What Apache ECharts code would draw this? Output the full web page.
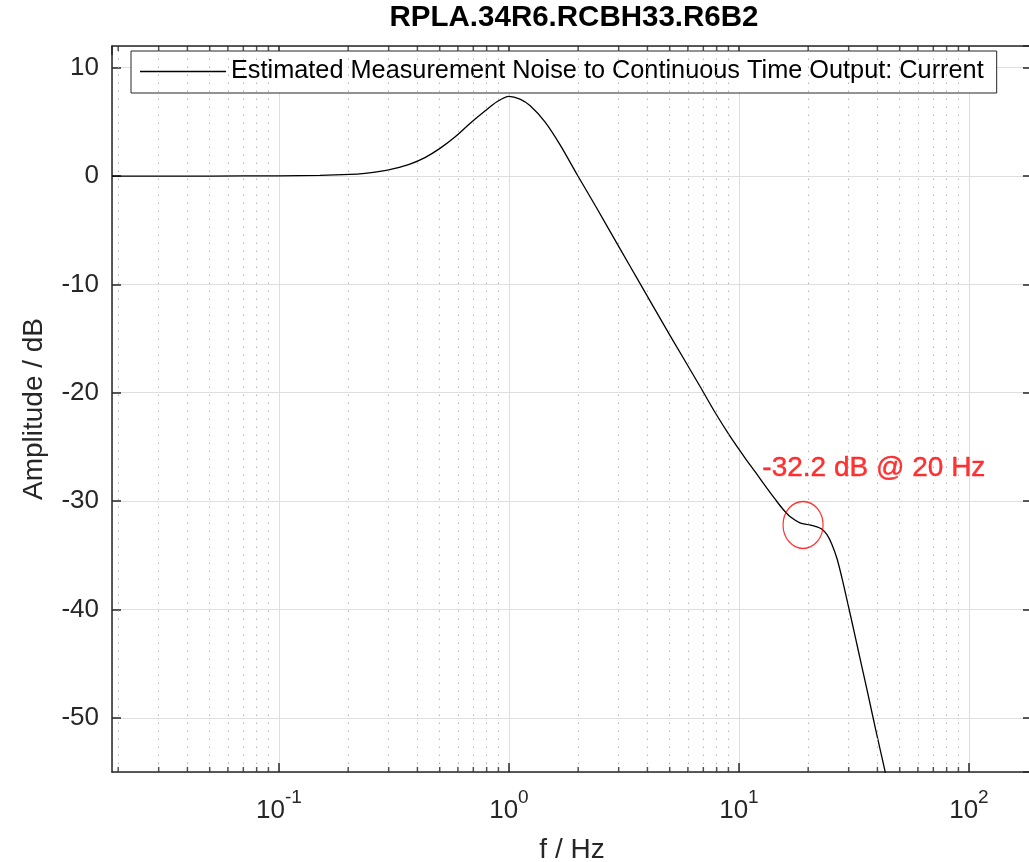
<!DOCTYPE html>
<html>
<head>
<meta charset="utf-8">
<script src="https://cdn.jsdelivr.net/npm/echarts@6/dist/echarts.min.js"></script>
<style>
html,body{margin:0;padding:0;background:#fff;}
#chart{width:1029px;height:862px;}
</style>
</head>
<body>
<div id="chart"></div>
<script>
// ---- data ----
const TITLE = 'RPLA.34R6.RCBH33.R6B2';
const SERIES_NAME = 'Estimated Measurement Noise to Continuous Time Output: Current';
const FREQ_HZ = [0.0188, 0.05, 0.1, 0.1507, 0.2036, 0.2365, 0.2749, 0.3193, 0.3711, 0.4313, 0.5012, 0.5822, 0.6767, 0.7864, 0.8867, 1.0, 1.1163, 1.2339, 1.4339, 1.6665, 1.9953, 2.4138, 3.0385, 3.7122, 5.0119, 6.7673, 7.865, 9.140, 10.62, 11.86, 13.23, 14.34, 15.54, 16.83, 18.42, 20.35, 21.62, 22.96, 24.14, 25.37, 26.68, 28.05, 29.78, 31.94, 33.92, 36.03, 39.42, 43.14, 47.68];
const AMP_DB  = [0, 0, 0.02, 0.06, 0.15, 0.25, 0.42, 0.7, 1.1, 1.7, 2.55, 3.6, 4.85, 6.0, 6.85, 7.35, 7.1, 6.5, 5.0, 2.9, 0.0, -3.0, -6.7, -9.9, -14.7, -19.4, -21.8, -24.0, -26.0, -27.4, -28.8, -29.8, -30.75, -31.5, -32.0, -32.2, -32.35, -32.6, -33.1, -34.0, -35.3, -37.1, -39.5, -42.4, -44.9, -47.4, -51.2, -54.9, -59.1];
const ANNOT_TEXT = '-32.2 dB @ 20 Hz';
const ANNOT_POINT = [19, -32.2];
const ANNOT_TEXT_POS = [38.6, -27.0];
const X_RANGE = [0.0188, 188];
const Y_RANGE = [-55, 12];
const MINOR_MULT = [2, 3, 4, 5, 6, 7, 8, 9];
const DECADES = [-2, -1, 0, 1, 2];

// ---- build ----
const minorTicks = [];
DECADES.forEach(d => MINOR_MULT.forEach(m => {
  const v = m * Math.pow(10, d);
  if (v > X_RANGE[0] && v < X_RANGE[1]) minorTicks.push(+v.toPrecision(3));
}));
const lineData = FREQ_HZ.map((f, i) => [f, AMP_DB[i]]);
const axisColor = '#262626';
const font = 'Liberation Sans, Arial, Helvetica, sans-serif';

const chart = echarts.init(document.getElementById('chart'), null, {renderer: 'canvas'});
const supLabel = v => {
  const e = Math.round(Math.log10(v));
  return '{b|10}{s|' + e + '}';
};
const option = {
  backgroundColor: '#fff',
  animation: false,
  title: {
    text: TITLE, left: 569, top: -2, textAlign: 'center',
    textStyle: {fontFamily: font, fontSize: 29.5, fontWeight: 'bold', color: '#000'}
  },
  legend: {
    data: [{name: SERIES_NAME, icon: 'rect'}], left: 131, top: 51,
    padding: [8, 13, 9, 9], itemWidth: 86, itemHeight: 1.4, itemGap: 5,
    borderColor: axisColor, borderWidth: 1, backgroundColor: '#fff',
    textStyle: {fontFamily: font, fontSize: 25.3, color: '#000', lineHeight: 24},
    selectedMode: false
  },
  grid: {left: 112, top: 46, right: -3, bottom: 90, containLabel: false, outerBoundsMode: 'none'},
  xAxis: [{
    type: 'log', logBase: 10, min: X_RANGE[0], max: X_RANGE[1], position: 'bottom',
    name: 'f / Hz', nameLocation: 'middle', nameGap: 64,
    nameTextStyle: {fontFamily: font, fontSize: 28, color: axisColor},
    axisLine: {show: true, onZero: false, lineStyle: {color: axisColor, width: 1.5}},
    axisTick: {show: true, inside: true, length: 9, lineStyle: {color: axisColor, width: 1.5}},
    axisLabel: {
      showMinLabel: false, showMaxLabel: false, margin: 16, color: axisColor,
      formatter: supLabel,
      rich: {
        b: {fontFamily: font, fontSize: 26, color: axisColor, lineHeight: 36, verticalAlign: 'bottom'},
        s: {fontFamily: font, fontSize: 19, color: axisColor, lineHeight: 19, verticalAlign: 'top'}
      }
    },
    splitLine: {show: true, lineStyle: {color: '#dedede', width: 1}}
  }, {
    type: 'log', logBase: 10, min: X_RANGE[0], max: X_RANGE[1], position: 'top',
    axisLine: {show: true, onZero: false, lineStyle: {color: axisColor, width: 1.5}},
    axisTick: {show: true, inside: true, length: 9, lineStyle: {color: axisColor, width: 1.5}},
    axisLabel: {show: false}, splitLine: {show: false}
  }],
  yAxis: [{
    type: 'value', min: Y_RANGE[0], max: Y_RANGE[1], position: 'left',
    name: 'Amplitude / dB', nameLocation: 'middle', nameGap: 64,
    nameTextStyle: {fontFamily: font, fontSize: 28, color: axisColor},
    axisLine: {show: true, onZero: false, lineStyle: {color: axisColor, width: 1.5}},
    axisTick: {show: true, inside: true, length: 9, lineStyle: {color: axisColor, width: 1.5}},
    axisLabel: {showMinLabel: false, showMaxLabel: false, margin: 13, fontFamily: font, fontSize: 26, color: axisColor},
    splitLine: {show: true, lineStyle: {color: '#dedede', width: 1}}
  }, {
    type: 'value', min: Y_RANGE[0], max: Y_RANGE[1], position: 'right',
    axisLine: {show: true, onZero: false, lineStyle: {color: axisColor, width: 1.5}},
    axisTick: {show: true, inside: true, length: 9, lineStyle: {color: axisColor, width: 1.5}},
    axisLabel: {show: false}, splitLine: {show: false}
  }],
  series: [{
    name: 'minor-grid', type: 'line', data: [], xAxisIndex: 0, yAxisIndex: 0, silent: true,
    markLine: {
      silent: true, symbol: ['none', 'none'], label: {show: false},
      lineStyle: {color: '#b4b4b4', width: 1, type: [1.5, 6.5]},
      data: minorTicks.map(v => ({xAxis: v}))
    }
  }, {
    name: 'minor-ticks-bottom', type: 'scatter', xAxisIndex: 0, yAxisIndex: 0, silent: true,
    symbol: 'rect', symbolSize: [1.5, 5], symbolOffset: [0, -2.5],
    itemStyle: {color: axisColor}, z: 5,
    data: minorTicks.map(v => [v, Y_RANGE[0]])
  }, {
    name: 'minor-ticks-top', type: 'scatter', xAxisIndex: 0, yAxisIndex: 0, silent: true,
    symbol: 'rect', symbolSize: [1.5, 5], symbolOffset: [0, 2.5],
    itemStyle: {color: axisColor}, z: 5,
    data: minorTicks.map(v => [v, Y_RANGE[1]])
  }, {
    name: SERIES_NAME, type: 'line', xAxisIndex: 0, yAxisIndex: 0,
    data: lineData, symbol: 'none', showSymbol: false, smooth: 0.3,
    lineStyle: {color: '#000', width: 1.3}, itemStyle: {color: '#000'}, z: 4
  }, {
    name: 'annot-ellipse', type: 'scatter', xAxisIndex: 0, yAxisIndex: 0, silent: true,
    symbol: 'circle', symbolSize: [40, 47],
    itemStyle: {color: 'rgba(0,0,0,0)', borderColor: '#ff0000', borderWidth: 1.3}, z: 6,
    data: [ANNOT_POINT]
  }, {
    name: 'annot-text', type: 'scatter', xAxisIndex: 0, yAxisIndex: 0, silent: true,
    symbolSize: 0, z: 6,
    label: {show: true, position: 'inside', formatter: ANNOT_TEXT, color: '#ff0000', textBorderColor: '#ff0000', textBorderWidth: 0.4, fontFamily: font, fontSize: 28},
    data: [ANNOT_TEXT_POS]
  }]
};
chart.setOption(option);
</script>
</body>
</html>
